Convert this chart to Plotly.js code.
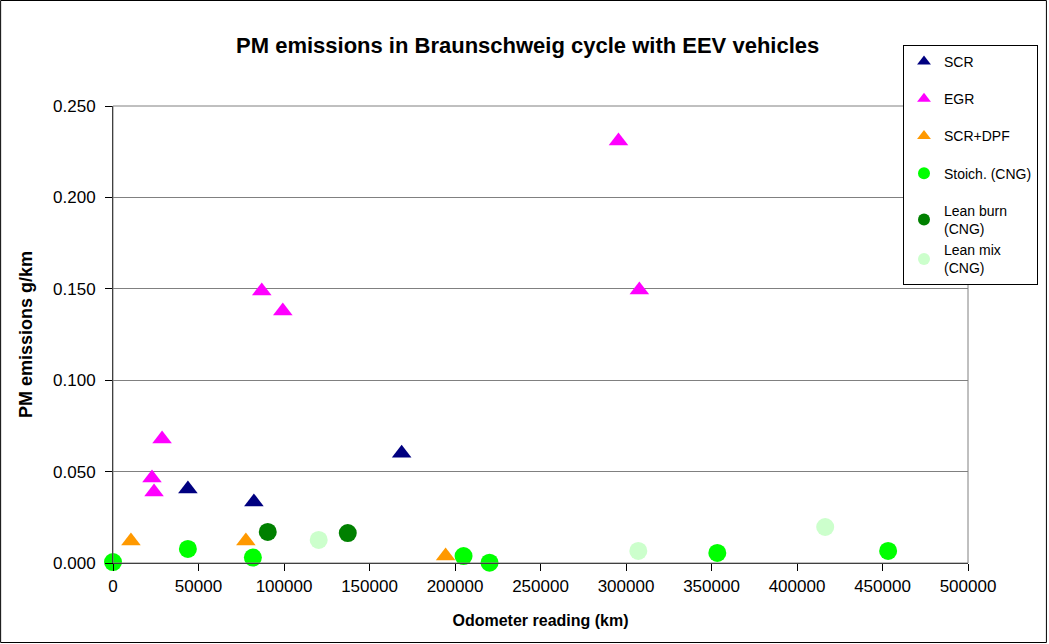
<!DOCTYPE html>
<html>
<head>
<meta charset="utf-8">
<script src="https://cdn.plot.ly/plotly-3.0.1.min.js"></script>
<style>body{margin:0;padding:0;background:#fff}#chart{width:1049px;height:644px}</style>
</head>
<body>
<div id="chart"></div>
<script>
var seriesNames = ["SCR", "EGR", "SCR+DPF", "Stoich. (CNG)", "Lean burn<br>(CNG)", "Lean mix<br>(CNG)"];
var scrX = [43800, 82400, 168800];
var scrY = [0.0405, 0.0334, 0.0600];
var egrX = [22800, 24000, 28700, 87000, 99300, 295600, 307800];
var egrY = [0.0465, 0.0388, 0.0678, 0.1488, 0.1379, 0.2309, 0.1493];
var dpfX = [10500, 77700, 194500];
var dpfY = [0.0120, 0.0120, 0.0038];
var stoichX = [0, 43800, 81800, 205000, 220200, 353400, 453300];
var stoichY = [0.0005, 0.0077, 0.0030, 0.0038, 0.0002, 0.0055, 0.0066];
var leanBurnX = [90500, 137300];
var leanBurnY = [0.0170, 0.0164];
var leanMixX = [120300, 307200, 416500];
var leanMixY = [0.0126, 0.0066, 0.0197];
var xTicks = [0, 50000, 100000, 150000, 200000, 250000, 300000, 350000, 400000, 450000, 500000];
var yTicks = [0, 0.05, 0.1, 0.15, 0.2, 0.25];
var yTickText = ["0.000", "0.050", "0.100", "0.150", "0.200", "0.250"];

var xs = [scrX, egrX, dpfX, stoichX, leanBurnX, leanMixX];
var ys = [scrY, egrY, dpfY, stoichY, leanBurnY, leanMixY];
var colors = ["#000080", "#FF00FF", "#FF9900", "#00FF00", "#008000", "#CCFFCC"];
var symbols = ["triangle-up", "triangle-up", "triangle-up", "circle", "circle", "circle"];
var sizes = [17, 17, 17, 18, 18, 18];
var groups = ["g0", "g1", "g2", "g3", "g4", "g4"];

var traces = [];
for (var i = 0; i < seriesNames.length; i++) {
  traces.push({
    type: "scatter", mode: "markers", name: seriesNames[i],
    x: xs[i], y: ys[i], cliponaxis: false, legendgroup: groups[i],
    marker: {color: colors[i], symbol: symbols[i], size: sizes[i], line: {width: 0}}
  });
}

var L = 113, R = 969, T = 106, B = 563, W = 1049, H = 644;
function px(x){return (x - L) / (R - L);}
function py(y){return (B - y) / (B - T);}

var layout = {
  width: W, height: H,
  margin: {l: L, r: W - R, t: T, b: H - B, pad: 0},
  paper_bgcolor: "#ffffff", plot_bgcolor: "#ffffff",
  font: {family: "'Liberation Sans', Arial, sans-serif", color: "#000"},
  title: {text: "<b>PM emissions in Braunschweig cycle with EEV vehicles</b>", font: {size: 22, color: "#000"}, x: 0.503, xanchor: "center", y: 1 - 45/H, yanchor: "middle"},
  xaxis: {
    range: [0, 500000], tickvals: xTicks,
    ticktext: xTicks.map(function(v){return String(v);}),
    showgrid: false, zeroline: false, showline: true, linecolor: "#000", linewidth: 1,
    ticks: "outside", ticklen: 7, tickcolor: "#000", tickfont: {size: 17},
    ticklabelstandoff: 1,
    title: {text: "<b>Odometer reading (km)</b>", font: {size: 16}, standoff: 19}
  },
  yaxis: {
    range: [0, 0.25], tickvals: yTicks, ticktext: yTickText,
    showgrid: true, gridcolor: "#808080", gridwidth: 1, zeroline: false,
    showline: true, linecolor: "#000", linewidth: 1,
    ticks: "outside", ticklen: 7, tickcolor: "#000", tickfont: {size: 17},
    ticklabelstandoff: 6,
    title: {text: "<b>PM emissions g/km</b>", font: {size: 18}, standoff: 15}
  },
  showlegend: true,
  legend: {
    x: px(903), y: py(45), xanchor: "left", yanchor: "top",
    bgcolor: "#ffffff", bordercolor: "#000", borderwidth: 1,
    font: {size: 14, color: "#000"}, itemsizing: "constant", tracegroupgap: 16,
    itemwidth: 30
  },
  shapes: [
    {type: "rect", xref: "paper", yref: "paper", x0: 0, x1: 1, y0: 0, y1: 1, line: {color: "#808080", width: 1}},
    {type: "rect", xref: "paper", yref: "paper", x0: px(0.5), x1: px(W - 1.5), y0: py(H - 1.5), y1: py(0.5), line: {color: "#000", width: 1}}
  ]
};

Plotly.newPlot("chart", traces, layout, {displayModeBar: false, staticPlot: true});
</script>
</body>
</html>
